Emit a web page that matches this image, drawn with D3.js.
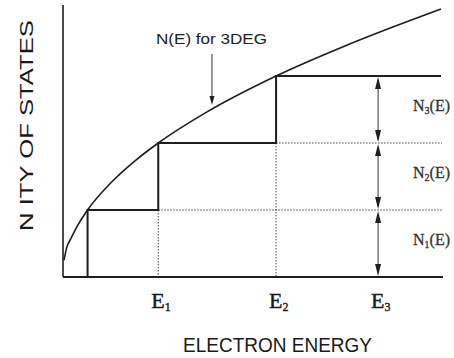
<!DOCTYPE html>
<html>
<head>
<meta charset="utf-8">
<script src="https://cdn.jsdelivr.net/npm/d3@7"></script>
<style>
  body { margin: 0; background: #fff; }
  svg { display: block; }
</style>
</head>
<body>
<div id="chart"></div>
<script>
var width = 454;
var height = 358;

// curve N(E) (energy units, state units)
var curveE = [0, 0.1, 0.3, 0.5, 1, 2, 3, 4, 6, 9, 12, 16];
var curveN = [0.25, 0.42, 0.58, 0.72, 1, 1.41, 1.73, 2, 2.45, 3, 3.46, 4];

// staircase corners (energy where each level starts) and levels
var stepE = [1, 4, 9];
var stepN = [1, 2, 3];
var stepEndE = 16;

// x labels E1, E2, E3
var tickSubs = ["1", "2", "3"];
var tickE = [4, 9, 13.33];

// right hand labels N1(E), N2(E), N3(E)
var levelSubs = ["1", "2", "3"];
var arrowE = 13.33;

var xScale = d3.scaleLinear().domain([0, 16]).range([64, 441]);
var yScale = d3.scaleLinear().domain([0, 4]).range([277, 9]);

var svg = d3.select("#chart")
    .append("svg")
    .attr("width", width)
    .attr("height", height);

var ink = "#1e1e1e";

// axes (no ticks)
svg.append("line")
    .attr("x1", xScale(0) - 1).attr("x2", xScale(0) - 1)
    .attr("y1", yScale(4.06)).attr("y2", yScale(0))
    .attr("stroke", ink).attr("stroke-width", 1.6);
svg.append("line")
    .attr("x1", xScale(0) - 1).attr("x2", xScale(16) + 2)
    .attr("y1", yScale(0)).attr("y2", yScale(0))
    .attr("stroke", ink).attr("stroke-width", 1.8);

// dotted guide lines
var dotted = svg.append("g")
    .attr("stroke", "#444")
    .attr("stroke-width", 1)
    .attr("stroke-dasharray", "1.5,1.5");
// horizontal guides for levels 1 and 2
dotted.selectAll("line.h")
    .data([0, 1])
    .enter().append("line")
    .attr("class", "h")
    .attr("x1", function(i) { return xScale(stepE[i + 1]); })
    .attr("x2", xScale(stepEndE) + 1)
    .attr("y1", function(i) { return yScale(stepN[i]); })
    .attr("y2", function(i) { return yScale(stepN[i]); });
// vertical guides down from corners 2 and 3
dotted.selectAll("line.v")
    .data([1, 2])
    .enter().append("line")
    .attr("class", "v")
    .attr("x1", function(i) { return xScale(stepE[i]); })
    .attr("x2", function(i) { return xScale(stepE[i]); })
    .attr("y1", function(i) { return yScale(stepN[i - 1]); })
    .attr("y2", yScale(0));

// staircase
var stairPts = [[stepE[0], 0]];
stepE.forEach(function(e, i) {
    stairPts.push([e, stepN[i]]);
    var next = i < stepE.length - 1 ? stepE[i + 1] : stepEndE;
    stairPts.push([next, stepN[i]]);
});
svg.append("path")
    .datum(stairPts)
    .attr("fill", "none")
    .attr("stroke", ink)
    .attr("stroke-width", 2)
    .attr("d", d3.line()
        .x(function(d) { return xScale(d[0]); })
        .y(function(d) { return yScale(d[1]); }));

// N(E) curve
svg.append("path")
    .datum(d3.zip(curveE, curveN))
    .attr("fill", "none")
    .attr("stroke", ink)
    .attr("stroke-width", 1.6)
    .attr("d", d3.line()
        .curve(d3.curveMonotoneX)
        .x(function(d) { return xScale(d[0]); })
        .y(function(d) { return yScale(d[1]); }));

// double arrows between levels
function arrowHead(x, yTip, dir) {
    // dir = -1 points up, 1 points down
    var len = 12, half = 3;
    return "M" + x + "," + yTip +
        "L" + (x - half) + "," + (yTip - dir * len) +
        "L" + (x + half) + "," + (yTip - dir * len) + "Z";
}
var ax = xScale(arrowE);
var arrows = svg.append("g");
[0, 1, 2].forEach(function(i) {
    var yLow = yScale(i), yHigh = yScale(i + 1);
    arrows.append("line")
        .attr("x1", ax).attr("x2", ax)
        .attr("y1", yHigh + 4).attr("y2", yLow - 4)
        .attr("stroke", "#333").attr("stroke-width", 1);
    arrows.append("path").attr("d", arrowHead(ax, yHigh + 1, -1)).attr("fill", ink);
    arrows.append("path").attr("d", arrowHead(ax, yLow - 1, 1)).attr("fill", ink);
});

// right labels
var rLabels = svg.append("g")
    .attr("font-family", "'Liberation Serif', 'Times New Roman', serif")
    .attr("font-size", 16)
    .attr("fill", "#333")
    .attr("stroke", "#333")
    .attr("stroke-width", 0.3);
levelSubs.forEach(function(s, i) {
    var t = rLabels.append("text")
        .attr("x", 413)
        .attr("y", (yScale(i) + yScale(i + 1)) / 2 + 1);
    t.append("tspan").text("N");
    t.append("tspan").attr("font-size", 10).attr("dy", 3).text(s);
    t.append("tspan").attr("dy", -3).text("(E)");
});

// x labels
var xLabels = svg.append("g")
    .attr("font-family", "'Liberation Serif', 'Times New Roman', serif")
    .attr("font-size", 22)
    .attr("fill", "#1a1a1a")
    .attr("stroke", "#1a1a1a")
    .attr("stroke-width", 0.4);
tickSubs.forEach(function(s, i) {
    var t = xLabels.append("text")
        .attr("x", xScale(tickE[i]) - 7)
        .attr("y", 308);
    t.append("tspan").text("E");
    t.append("tspan").attr("font-size", 12).attr("dy", 3).text(s);
});

// curve annotation
svg.append("text")
    .attr("x", 156)
    .attr("y", 44)
    .attr("font-family", "'Liberation Sans', Arial, sans-serif")
    .attr("font-size", 14)
    .attr("textLength", 111)
    .attr("lengthAdjust", "spacingAndGlyphs")
    .attr("fill", "#222")
    .text("N(E) for 3DEG");
var pe = xScale(6.28);
svg.append("line")
    .attr("x1", pe).attr("x2", pe)
    .attr("y1", 54).attr("y2", 98)
    .attr("stroke", "#333").attr("stroke-width", 1);
svg.append("path")
    .attr("d", "M" + pe + "," + 105 + "L" + (pe - 2.5) + "," + 96 + "L" + (pe + 2.5) + "," + 96 + "Z")
    .attr("fill", ink);

// axis titles
svg.append("text")
    .attr("x", 183)
    .attr("y", 352)
    .attr("font-family", "'Liberation Sans', Arial, sans-serif")
    .attr("font-size", 21)
    .attr("textLength", 189)
    .attr("lengthAdjust", "spacingAndGlyphs")
    .attr("fill", "#1a1a1a")
    .text("ELECTRON ENERGY");

svg.append("text")
    .attr("transform", "translate(33,231) rotate(-90)")
    .attr("font-family", "'Liberation Sans', Arial, sans-serif")
    .attr("font-size", 18)
    .attr("textLength", 211)
    .attr("lengthAdjust", "spacingAndGlyphs")
    .attr("fill", "#1a1a1a")
    .text("N  ITY OF STATES");
</script>
</body>
</html>
